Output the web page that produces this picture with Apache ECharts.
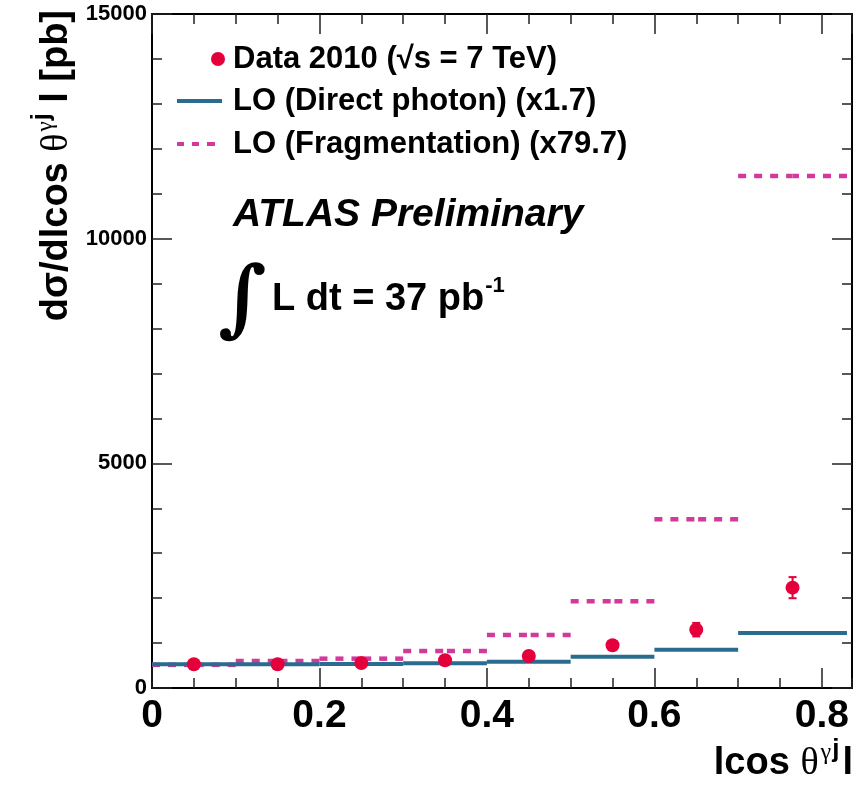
<!DOCTYPE html>
<html><head><meta charset="utf-8">
<script src="https://cdn.jsdelivr.net/npm/echarts@6/dist/echarts.min.js"></script>
<style>html,body{margin:0;padding:0;background:#fff}#c{width:863px;height:789px}</style>
</head><body><div id="c"></div>
<script>
// ---- data ----
const binLow   = [0.0, 0.1, 0.2, 0.3, 0.4, 0.5, 0.6, 0.7];
const binHigh  = [0.1, 0.2, 0.3, 0.4, 0.5, 0.6, 0.7, 0.83];
const dataX    = [0.05, 0.15, 0.25, 0.35, 0.45, 0.55, 0.65, 0.765];
const dataY    = [527, 527, 556, 616, 712, 950, 1298, 2233];
const dataErr  = [20, 20, 25, 30, 40, 60, 150, 235];
const directLO = [527, 530, 535, 550, 585, 697, 853, 1224];
const fragLO   = [515, 601, 653, 823, 1180, 1930, 3755, 11395];
const xTickLabels = ['0', '0.2', '0.4', '0.6', '0.8'];
const yTickLabels = ['0', '5000', '10000', '15000'];
const legendNames = ['Data 2010 (\u221As = 7 TeV)', 'LO (Direct photon) (x1.7)', 'LO (Fragmentation) (x79.7)'];

const RED = '#e4003b', BLUE = '#2a6c8f', PINK = '#d3399c';
const FONT = '"Liberation Sans", Arial, Helvetica, sans-serif';
const SERIF = '"Liberation Serif", "DejaVu Serif", serif';

const chart = echarts.init(document.getElementById('c'), null, {renderer: 'canvas'});

const X_MAX = 0.836;
const gridBox = {left: 152, right: 11, top: 14, bottom: 101};

function stepItem(color, dashed) {
  return function (params, api) {
    const a = api.coord([api.value(0), api.value(2)]);
    const b = api.coord([api.value(1), api.value(2)]);
    const st = {stroke: color, lineWidth: dashed ? 4.5 : 4, fill: null};
    if (!dashed) {
      return {type: 'line', shape: {x1: a[0], y1: a[1], x2: b[0], y2: b[1]}, style: st};
    }
    const m = (a[0] + b[0]) / 2;
    const ds = Object.assign({}, st, {lineDash: [8, 8]});
    return {type: 'group', children: [
      {type: 'line', shape: {x1: a[0], y1: a[1], x2: m, y2: a[1]}, style: ds},
      {type: 'line', shape: {x1: b[0], y1: b[1], x2: m, y2: b[1]}, style: ds}
    ]};
  };
}

function errItem(params, api) {
  const x = api.value(0), y = api.value(1), e = api.value(2);
  const top = api.coord([x, y + e]);
  const bot = api.coord([x, y - e]);
  const st = {stroke: RED, lineWidth: 2};
  return {type: 'group', children: [
    {type: 'line', shape: {x1: top[0], y1: top[1], x2: bot[0], y2: bot[1]}, style: st},
    {type: 'line', shape: {x1: top[0] - 4, y1: top[1], x2: top[0] + 4, y2: top[1]}, style: st},
    {type: 'line', shape: {x1: bot[0] - 4, y1: bot[1], x2: bot[0] + 4, y2: bot[1]}, style: st}
  ]};
}

const axisLineStyle = {show: true, onZero: false, lineStyle: {color: '#000', width: 2}};
const tickStyle = {color: '#222', width: 1.5};

function xAxisDef(gridIndex, position, interval, tickLen, withLabels, withLine) {
  return {
    type: 'value', gridIndex: gridIndex, position: position, min: 0, max: X_MAX, interval: interval,
    axisLine: withLine ? axisLineStyle : {show: false, onZero: false},
    axisTick: {show: true, inside: true, length: tickLen, lineStyle: tickStyle},
    splitLine: {show: false},
    axisLabel: withLabels ? {
      show: true, fontSize: 39, fontWeight: 'bold', fontFamily: FONT, color: '#000', margin: 9,
      showMaxLabel: false, showMinLabel: true,
      formatter: function (v) { const i = Math.round(v / 0.2); return Math.abs(v - i * 0.2) < 1e-6 ? (xTickLabels[i] || '') : ''; }
    } : {show: false}
  };
}

function yAxisDef(position, withLabels) {
  return {
    type: 'value', gridIndex: 0, position: position, min: 0, max: 15000, interval: 5000,
    axisLine: axisLineStyle,
    axisTick: {show: true, inside: true, length: 20, lineStyle: tickStyle},
    minorTick: {show: true, splitNumber: 5, length: 10, lineStyle: tickStyle},
    splitLine: {show: false}, minorSplitLine: {show: false},
    axisLabel: withLabels ? {
      show: true, fontSize: 22, fontWeight: 'bold', fontFamily: FONT, color: '#000', margin: 5,
      formatter: function (v) { return yTickLabels[Math.round(v / 5000)] || ''; }
    } : {show: false}
  };
}

const legendText = {fontSize: 31, fontWeight: 'bold', fontFamily: FONT, color: '#000', lineHeight: 34};

const option = {
  backgroundColor: '#fff',
  animation: false,
  grid: [Object.assign({}, gridBox), Object.assign({}, gridBox)],
  xAxis: [
    xAxisDef(0, 'bottom', 0.2, 20, true, true),
    xAxisDef(0, 'top', 0.2, 20, false, true),
    xAxisDef(1, 'bottom', 0.05, 10, false, false),
    xAxisDef(1, 'top', 0.05, 10, false, false)
  ],
  yAxis: [
    yAxisDef('left', true),
    yAxisDef('right', false),
    {type: 'value', gridIndex: 1, min: 0, max: 1, show: false}
  ],
  legend: [
    {data: [{name: legendNames[0], icon: 'circle'}], left: 211, top: 42, padding: 0,
     itemWidth: 14, itemHeight: 14, selectedMode: false,
     textStyle: Object.assign({padding: [0, 0, 0, 3]}, legendText)},
    {data: [{name: legendNames[1], icon: 'rect', itemStyle: {color: BLUE}}], left: 177, top: 84, padding: 0,
     itemWidth: 45, itemHeight: 4, selectedMode: false,
     textStyle: Object.assign({padding: [0, 0, 0, 6]}, legendText)},
    {data: [{name: legendNames[2], icon: 'path://M0,0h7v4h-7z M15,0h7v4h-7z M30,0h8v4h-8z', itemStyle: {color: PINK}}],
     left: 177, top: 127, padding: 0,
     itemWidth: 38, itemHeight: 4, selectedMode: false,
     textStyle: Object.assign({padding: [0, 0, 0, 13]}, legendText)}
  ],
  series: [
    {
      name: legendNames[2], type: 'custom', xAxisIndex: 0, yAxisIndex: 0,
      renderItem: stepItem(PINK, true), itemStyle: {color: PINK},
      encode: {x: [0, 1], y: 2},
      data: fragLO.map((v, i) => [binLow[i], binHigh[i], v]), z: 2
    },
    {
      name: legendNames[1], type: 'custom', xAxisIndex: 0, yAxisIndex: 0,
      renderItem: stepItem(BLUE, false), itemStyle: {color: BLUE},
      encode: {x: [0, 1], y: 2},
      data: directLO.map((v, i) => [binLow[i], binHigh[i], v]), z: 3
    },
    {
      name: 'errors', type: 'custom', xAxisIndex: 0, yAxisIndex: 0,
      renderItem: errItem, itemStyle: {color: RED},
      encode: {x: 0, y: 1},
      data: dataY.map((v, i) => [dataX[i], v, dataErr[i]]), z: 4
    },
    {
      name: legendNames[0], type: 'scatter', xAxisIndex: 0, yAxisIndex: 0,
      symbol: 'circle', symbolSize: 14, itemStyle: {color: RED, opacity: 1},
      data: dataY.map((v, i) => [dataX[i], v]), z: 5
    }
  ],
  graphic: [
    {type: 'text', x: 233, y: 215, z: 10,
     style: {text: 'ATLAS Preliminary', fontSize: 39, fontWeight: 'bold', fontStyle: 'italic',
             fontFamily: FONT, fill: '#000', verticalAlign: 'middle', align: 'left'}},
    {type: 'text', x: 218, y: 304, z: 10,
     style: {text: '\u222B', fontSize: 84, fontWeight: 'bold', fontFamily: '"DejaVu Serif", serif', fill: '#000', verticalAlign: 'middle', align: 'left'}},
    {type: 'text', x: 272, y: 297, z: 10,
     style: {text: '{m|L dt = 37 pb}{s|-1}', verticalAlign: 'middle', align: 'left', fill: '#000',
             rich: {
               m: {fontSize: 38, fontWeight: 'bold', fontFamily: FONT, lineHeight: 44, verticalAlign: 'bottom'},
               s: {fontSize: 22, fontWeight: 'bold', fontFamily: FONT, lineHeight: 24, padding: [0, 0, 22, 1], verticalAlign: 'bottom'}
             }}},
    {type: 'text', x: 853, y: 762, z: 10,
     style: {text: '{m|lcos }{t|\u03B8}{g|\u03B3}{j|j}{m|l}', align: 'right', verticalAlign: 'middle', fill: '#000',
             rich: {
               m: {fontSize: 38, fontWeight: 'bold', fontFamily: FONT, lineHeight: 42, verticalAlign: 'bottom'},
               t: {fontSize: 38, fontFamily: SERIF, lineHeight: 42, verticalAlign: 'bottom'},
               g: {fontSize: 24, fontFamily: SERIF, lineHeight: 26, padding: [0, 0, 18, 2], verticalAlign: 'bottom'},
               j: {fontSize: 26, fontWeight: 'bold', fontFamily: FONT, lineHeight: 26, padding: [0, 3, 20, 1], verticalAlign: 'bottom'}
             }}},
    {type: 'text', x: 55, y: 10, z: 10, rotation: Math.PI / 2,
     style: {text: '{m|d\u03C3/dlcos }{t|\u03B8}{g|\u03B3}{j|j}{m| l [pb]}', align: 'right', verticalAlign: 'middle', fill: '#000',
             rich: {
               m: {fontSize: 38, fontWeight: 'bold', fontFamily: FONT, lineHeight: 42, verticalAlign: 'bottom'},
               t: {fontSize: 38, fontFamily: SERIF, lineHeight: 42, verticalAlign: 'bottom'},
               g: {fontSize: 23, fontFamily: SERIF, lineHeight: 25, padding: [0, 0, 19, 2], verticalAlign: 'bottom'},
               j: {fontSize: 25, fontWeight: 'bold', fontFamily: FONT, lineHeight: 25, padding: [0, 0, 21, 1], verticalAlign: 'bottom'}
             }}}
  ]
};

chart.setOption(option);
</script>
</body></html>
